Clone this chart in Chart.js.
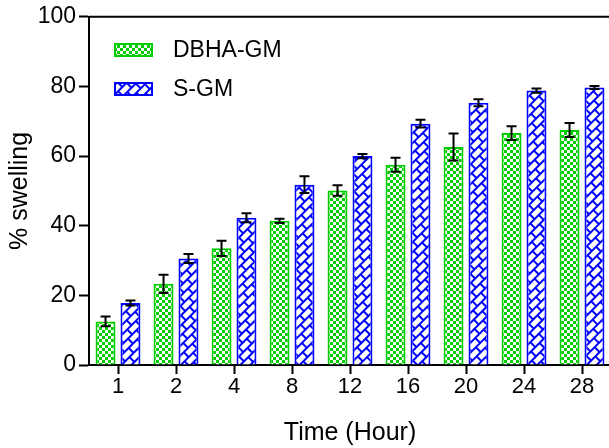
<!DOCTYPE html>
<html>
<head>
<meta charset="utf-8">
<script src="https://cdn.jsdelivr.net/npm/chart.js@4.4.0/dist/chart.umd.min.js"></script>
<style>
  html, body { margin: 0; padding: 0; background: #fff; overflow: hidden; }
</style>
</head>
<body>
<canvas id="myChart" width="611" height="448"></canvas>
<script>
var hours = ['1', '2', '4', '8', '12', '16', '20', '24', '28'];
var dbhaMean = [12.5, 23.3, 33.5, 41.4, 50.1, 57.5, 62.6, 66.6, 67.5];
var dbhaSd = [1.4, 2.6, 2.2, 0.6, 1.5, 2.0, 3.9, 2.0, 2.0];
var sgmMean = [17.8, 30.6, 42.3, 51.8, 60.0, 69.3, 75.3, 78.8, 79.7];
var sgmSd = [0.7, 1.3, 1.3, 2.4, 0.6, 1.1, 1.0, 0.6, 0.4];
var yTicks = [0, 20, 40, 60, 80, 100];

var FONT = '"Liberation Sans", Arial, sans-serif';
var GREEN = '#00cc00';
var BLUE = '#0000ff';

var ctx = document.getElementById('myChart').getContext('2d');

// checkerboard fill for DBHA-GM
function checkPattern(color) {
  var c = document.createElement('canvas');
  c.width = 6; c.height = 6;
  var g = c.getContext('2d');
  g.fillStyle = '#fff';
  g.fillRect(0, 0, 6, 6);
  g.fillStyle = color;
  g.fillRect(0, 0, 3, 3);
  g.fillRect(3, 3, 3, 3);
  return ctx.createPattern(c, 'repeat');
}

// diagonal brick fill for S-GM
function brickPattern(color) {
  var c = document.createElement('canvas');
  c.width = 12; c.height = 14;
  var g = c.getContext('2d');
  g.fillStyle = '#fff';
  g.fillRect(0, 0, 12, 14);
  g.fillStyle = color;
  g.fillRect(0, 0, 12, 2);
  g.fillRect(0, 7, 12, 2);
  g.fillRect(0, 2, 2, 5);
  g.fillRect(6, 9, 2, 5);
  var p = ctx.createPattern(c, 'repeat');
  p.setTransform(new DOMMatrix().rotate(-45));
  return p;
}

var greenFill = checkPattern(GREEN);
var blueFill = brickPattern(BLUE);

var errorBars = {
  id: 'errorBars',
  afterDatasetsDraw: function(chart) {
    var c = chart.ctx, y = chart.scales.y;
    c.save();
    c.strokeStyle = '#000';
    c.lineWidth = 2;
    chart.data.datasets.forEach(function(ds, i) {
      chart.getDatasetMeta(i).data.forEach(function(bar, j) {
        var top = y.getPixelForValue(ds.data[j] + ds.sd[j]);
        var bot = y.getPixelForValue(ds.data[j] - ds.sd[j]);
        c.beginPath();
        c.moveTo(bar.x, top); c.lineTo(bar.x, bot);
        c.moveTo(bar.x - 5, top); c.lineTo(bar.x + 5, top);
        c.moveTo(bar.x - 5, bot); c.lineTo(bar.x + 5, bot);
        c.stroke();
      });
    });
    c.restore();
  }
};

var topLine = {
  id: 'topLine',
  afterDraw: function(chart) {
    var c = chart.ctx, a = chart.chartArea;
    c.save();
    c.strokeStyle = '#000';
    c.lineWidth = 2;
    c.beginPath();
    c.moveTo(a.left, a.top);
    c.lineTo(chart.width, a.top);
    c.stroke();
    c.restore();
  }
};

var boxLegend = {
  id: 'boxLegend',
  afterDraw: function(chart) {
    var c = chart.ctx;
    c.save();
    chart.data.datasets.forEach(function(ds, i) {
      var y0 = 43 + i * 39;
      c.fillStyle = ds.backgroundColor;
      c.fillRect(114, y0, 39, 14);
      c.strokeStyle = ds.borderColor;
      c.lineWidth = 2;
      c.strokeRect(115, y0 + 1, 37, 12);
      c.fillStyle = '#000';
      c.font = '23px ' + FONT;
      c.textBaseline = 'middle';
      c.fillText(ds.label, 173, y0 + 8);
    });
    c.restore();
  }
};

var myChart = new Chart(ctx, {
  type: 'bar',
  data: {
    labels: hours,
    datasets: [{
      label: 'DBHA-GM',
      data: dbhaMean,
      sd: dbhaSd,
      backgroundColor: greenFill,
      borderColor: GREEN,
      borderWidth: 2
    }, {
      label: 'S-GM',
      data: sgmMean,
      sd: sgmSd,
      backgroundColor: blueFill,
      borderColor: BLUE,
      borderWidth: 2
    }]
  },
  options: {
    responsive: false,
    animation: false,
    categoryPercentage: 0.86,
    barPercentage: 0.8,
    layout: { padding: { top: 16, left: 0, right: 0, bottom: 0 } },
    plugins: {
      legend: { display: false },
      tooltip: { enabled: false }
    },
    scales: {
      x: {
        grid: { drawOnChartArea: false, offset: false, tickLength: 9, tickColor: '#000', tickWidth: 2 },
        border: { color: '#000', width: 2 },
        ticks: { color: '#000', font: { size: 22, family: FONT }, padding: 0, maxRotation: 0 },
        title: { display: true, text: 'Time (Hour)', color: '#000', font: { size: 25, family: FONT }, padding: { top: 0, bottom: 0 } },
        afterFit: function(s) { s.height = 83; }
      },
      y: {
        min: 0,
        max: 100,
        afterBuildTicks: function(s) { s.ticks = yTicks.map(function(v) { return { value: v }; }); },
        grid: { drawOnChartArea: false, tickLength: 10, tickColor: '#000', tickWidth: 2 },
        border: { color: '#000', width: 2 },
        ticks: { color: '#000', font: { size: 23, family: FONT }, padding: 3 },
        title: { display: true, text: '% swelling', color: '#000', font: { size: 25, family: FONT }, padding: { top: 5, bottom: 0 } },
        afterFit: function(s) { s.width = 89; }
      }
    }
  },
  plugins: [errorBars, topLine, boxLegend]
});
</script>
</body>
</html>
